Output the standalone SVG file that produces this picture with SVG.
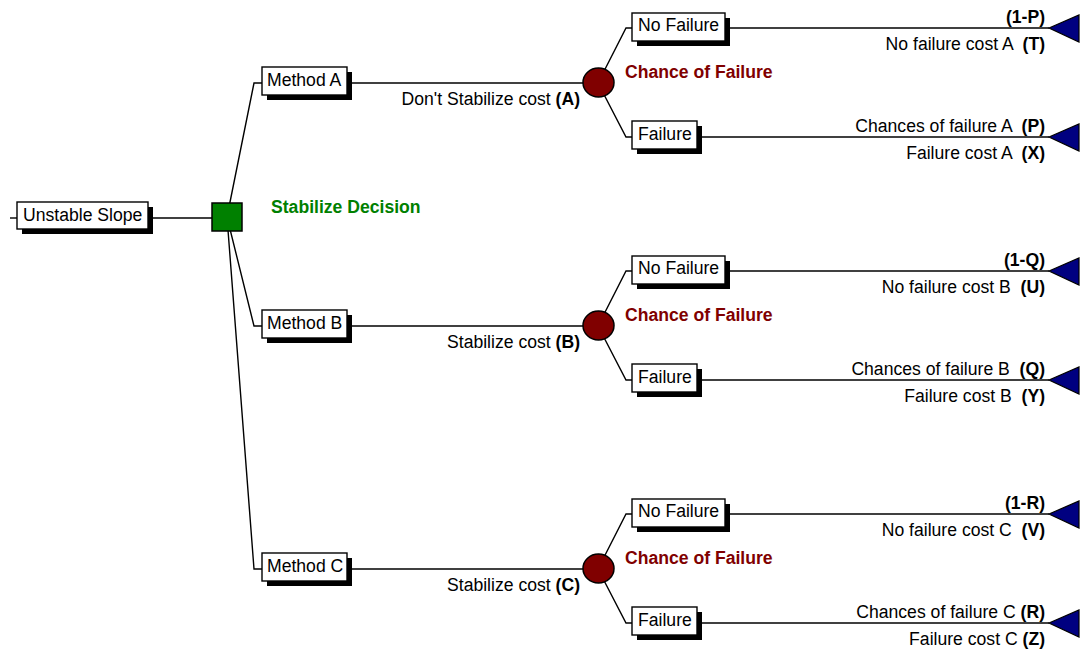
<svg xmlns="http://www.w3.org/2000/svg" width="1083" height="653" viewBox="0 0 1083 653">
  <defs>
    <style>
      text { font-family: "Liberation Sans", Arial, sans-serif; font-size: 17.6px; fill: #000; }
      .b { font-weight: bold; }
      .box { fill: #fff; stroke: #000; stroke-width: 1.4; }
      .shadow { fill: #000; }
      .wire { fill: none; stroke: #000; stroke-width: 1.4; }
      .decision { fill: #008000; stroke: #000; stroke-width: 1.5; }
      .chance { fill: #800000; stroke: #000; stroke-width: 1.5; }
      .end { fill: #000080; stroke: #000; stroke-width: 1.2; }
      .dlabel { font-weight: bold; fill: #008000; }
      .clabel { font-weight: bold; fill: #800000; }
      .r { text-anchor: end; }
    </style>
  </defs>

  <!-- connectors -->
  <g id="connectors" class="wire">
    <path d="M10 218 H17"/>
    <path d="M148 218 H227"/>
    <path d="M227 217 L254 83 H262"/>
    <path d="M227 217 L254 326 H262"/>
    <path d="M227 217 L254 569 H262"/>
    <!-- method A branch -->
    <path d="M347 83 H598"/>
    <path d="M598 83 L626 28 H632"/>
    <path d="M598 83 L626 137 H632"/>
    <path d="M725 28 H1049"/>
    <path d="M697 137 H1049"/>
    <!-- method B branch -->
    <path d="M347 326 H598"/>
    <path d="M598 326 L626 271 H632"/>
    <path d="M598 326 L626 380 H632"/>
    <path d="M725 271 H1049"/>
    <path d="M697 380 H1049"/>
    <!-- method C branch -->
    <path d="M347 569 H598"/>
    <path d="M598 569 L626 514 H632"/>
    <path d="M598 569 L626 623 H632"/>
    <path d="M725 514 H1049"/>
    <path d="M697 623 H1049"/>
  </g>

  <!-- edge labels -->
  <g id="edge-labels">
    <text class="r" x="580" y="105">Don't Stabilize cost <tspan class="b">(A)</tspan></text>
    <text class="r" x="580" y="348">Stabilize cost <tspan class="b">(B)</tspan></text>
    <text class="r" x="580" y="591">Stabilize cost <tspan class="b">(C)</tspan></text>

    <text class="r b" x="1045" y="23">(1-P)</text>
    <text class="r" x="1045" y="50" xml:space="preserve">No failure cost A  <tspan class="b">(T)</tspan></text>
    <text class="r" x="1045" y="132" xml:space="preserve">Chances of failure A  <tspan class="b">(P)</tspan></text>
    <text class="r" x="1045" y="159" xml:space="preserve">Failure cost A  <tspan class="b">(X)</tspan></text>

    <text class="r b" x="1045" y="266">(1-Q)</text>
    <text class="r" x="1045" y="293" xml:space="preserve">No failure cost B  <tspan class="b">(U)</tspan></text>
    <text class="r" x="1045" y="375" xml:space="preserve">Chances of failure B  <tspan class="b">(Q)</tspan></text>
    <text class="r" x="1045" y="402" xml:space="preserve">Failure cost B  <tspan class="b">(Y)</tspan></text>

    <text class="r b" x="1045" y="509">(1-R)</text>
    <text class="r" x="1045" y="536" xml:space="preserve">No failure cost C  <tspan class="b">(V)</tspan></text>
    <text class="r" x="1045" y="618" xml:space="preserve">Chances of failure C <tspan class="b">(R)</tspan></text>
    <text class="r" x="1045" y="645" xml:space="preserve">Failure cost C <tspan class="b">(Z)</tspan></text>
  </g>

  <!-- root -->
  <g id="unstable-slope">
    <rect class="shadow" x="22" y="207" width="131" height="27"/>
    <rect class="box" x="17" y="202" width="131" height="27"/>
    <text x="23" y="221">Unstable Slope</text>
  </g>

  <g id="stabilize-decision">
    <rect class="decision" x="212" y="203" width="30" height="28"/>
    <text class="dlabel" x="271" y="213">Stabilize Decision</text>
  </g>

  <!-- methods -->
  <g id="method-a">
    <rect class="shadow" x="267" y="72" width="85" height="28"/>
    <rect class="box" x="262" y="67" width="85" height="28"/>
    <text x="267" y="86">Method A</text>
  </g>
  <g id="method-b">
    <rect class="shadow" x="267" y="315" width="85" height="28"/>
    <rect class="box" x="262" y="310" width="85" height="28"/>
    <text x="267" y="329">Method B</text>
  </g>
  <g id="method-c">
    <rect class="shadow" x="267" y="558" width="85" height="28"/>
    <rect class="box" x="262" y="553" width="85" height="28"/>
    <text x="267" y="572">Method C</text>
  </g>

  <!-- chance nodes -->
  <g id="chance-a">
    <ellipse class="chance" cx="598.5" cy="82.5" rx="15.5" ry="14.5"/>
    <text class="clabel" x="625" y="78">Chance of Failure</text>
  </g>
  <g id="chance-b">
    <ellipse class="chance" cx="598.5" cy="325.5" rx="15.5" ry="14.5"/>
    <text class="clabel" x="625" y="321">Chance of Failure</text>
  </g>
  <g id="chance-c">
    <ellipse class="chance" cx="598.5" cy="568.5" rx="15.5" ry="14.5"/>
    <text class="clabel" x="625" y="564">Chance of Failure</text>
  </g>

  <!-- outcomes -->
  <g id="no-failure-a">
    <rect class="shadow" x="637" y="18" width="93" height="28"/>
    <rect class="box" x="632" y="13" width="93" height="28"/>
    <text x="638" y="31">No Failure</text>
  </g>
  <g id="failure-a">
    <rect class="shadow" x="637" y="126" width="65" height="28"/>
    <rect class="box" x="632" y="121" width="65" height="28"/>
    <text x="638" y="140">Failure</text>
  </g>
  <g id="no-failure-b">
    <rect class="shadow" x="637" y="261" width="93" height="28"/>
    <rect class="box" x="632" y="256" width="93" height="28"/>
    <text x="638" y="274">No Failure</text>
  </g>
  <g id="failure-b">
    <rect class="shadow" x="637" y="369" width="65" height="28"/>
    <rect class="box" x="632" y="364" width="65" height="28"/>
    <text x="638" y="383">Failure</text>
  </g>
  <g id="no-failure-c">
    <rect class="shadow" x="637" y="504" width="93" height="28"/>
    <rect class="box" x="632" y="499" width="93" height="28"/>
    <text x="638" y="517">No Failure</text>
  </g>
  <g id="failure-c">
    <rect class="shadow" x="637" y="612" width="65" height="28"/>
    <rect class="box" x="632" y="607" width="65" height="28"/>
    <text x="638" y="626">Failure</text>
  </g>

  <!-- terminal nodes -->
  <g id="end-a1"><polygon class="end" points="1049,28 1079,15 1079,42"/></g>
  <g id="end-a2"><polygon class="end" points="1049,137 1079,124 1079,151"/></g>
  <g id="end-b1"><polygon class="end" points="1049,271 1079,258 1079,285"/></g>
  <g id="end-b2"><polygon class="end" points="1049,380 1079,367 1079,394"/></g>
  <g id="end-c1"><polygon class="end" points="1049,514 1079,501 1079,528"/></g>
  <g id="end-c2"><polygon class="end" points="1049,623 1079,610 1079,637"/></g>
</svg>
